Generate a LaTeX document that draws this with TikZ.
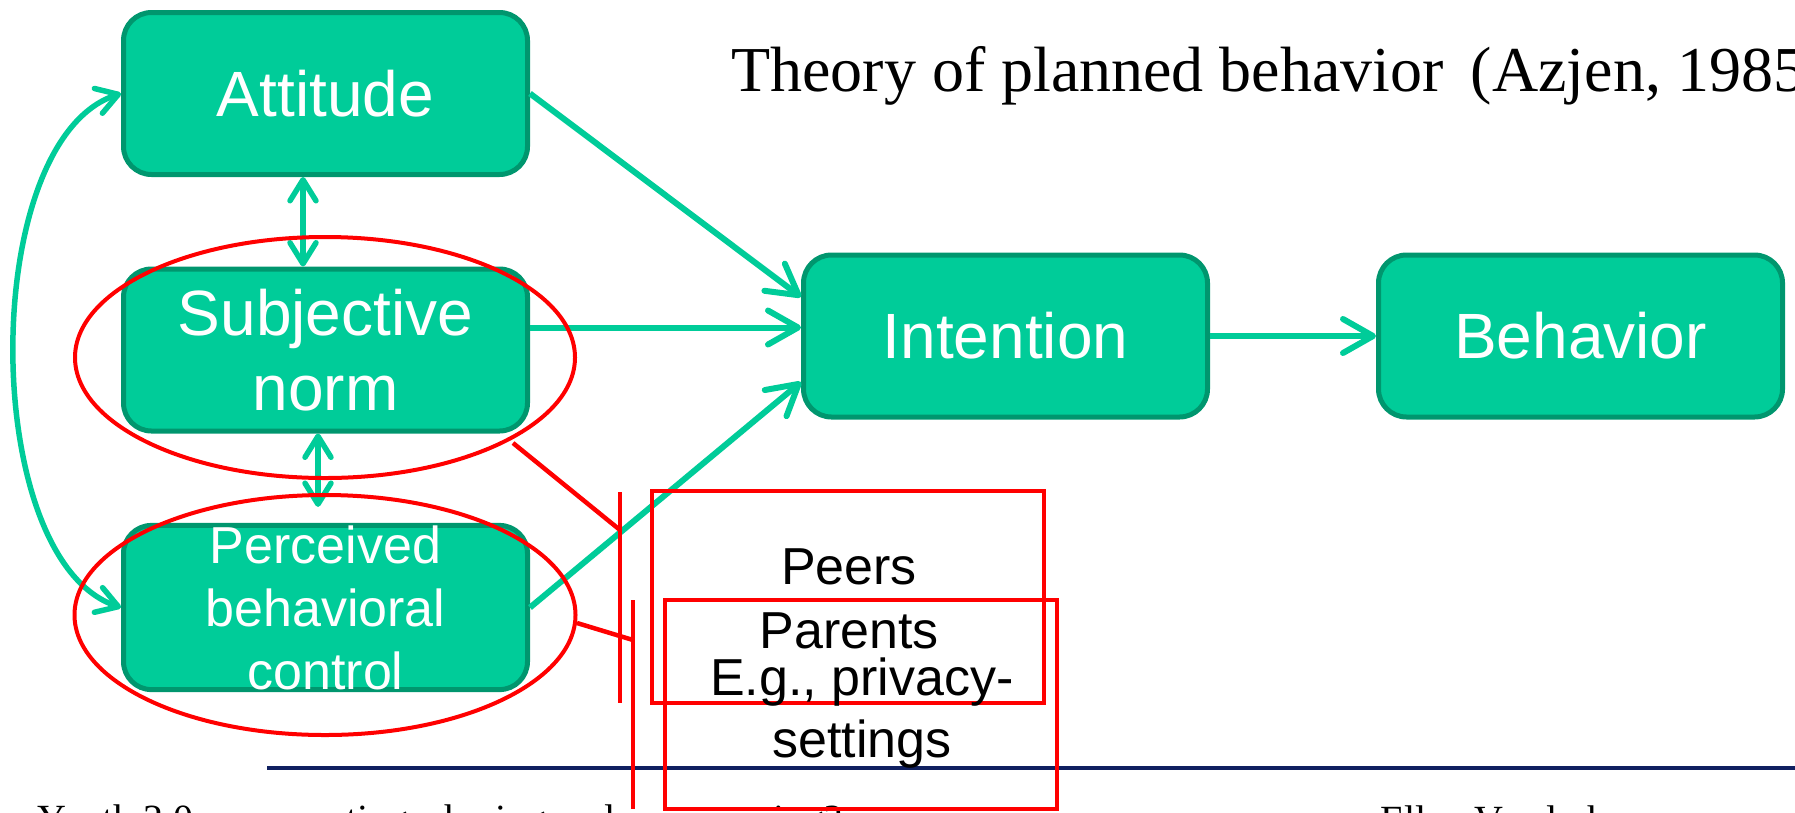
\documentclass[tikz,border=0pt]{standalone}
\usepackage{fontspec}
\setmainfont{Liberation Serif}
\newfontfamily\arialface{Liberation Sans}
\usetikzlibrary{arrows.meta,shapes.geometric,calc}

\definecolor{tpbfill}{RGB}{0,204,153}
\definecolor{tpbedge}{RGB}{0,150,110}
\definecolor{tpbarrow}{RGB}{0,204,153}
\definecolor{footnavy}{RGB}{16,32,96}

\begin{document}
\begin{tikzpicture}[x=1pt,y=-1pt,
  tpbbox/.style={draw=tpbedge, fill=tpbfill, line width=5pt, rounded corners=28pt,
    minimum width=404pt, minimum height=162pt, inner sep=0pt, text=white,
    align=center, font=\arialface\fontsize{64}{75}\selectfont},
  flow/.style={draw=tpbarrow, line width=6pt,
    -{Straight Barb[round,length=30pt,width=34pt]}},
  mutual/.style={draw=tpbarrow, line width=5.5pt,
    {Straight Barb[round,length=21pt,width=26pt]}-{Straight Barb[round,length=21pt,width=26pt]}},
  ring/.style={draw=red, line width=4pt, ellipse, inner sep=0pt},
  callout/.style={draw=red, line width=4.5pt, inner sep=0pt},
  tie/.style={draw=red, line width=4.5pt},
  grouplabel/.style={font=\arialface\fontsize{52}{64}\selectfont, align=center,
    text=black, inner sep=0pt}
]
\useasboundingbox (0,0) rectangle (1795,812);
\clip (0,0) rectangle (1795,812);

% footer rule and footer texts
\coordinate (ruleL) at (267,768);
\coordinate (ruleR) at (1795,768);
\draw[footnavy, line width=4pt] (ruleL) -- (ruleR);
\node[anchor=base west, inner sep=0pt, font=\fontsize{40}{48}\selectfont] (event) at (37,832)
  {Youth 2.0 – connecting, sharing and empowering?};
\node[anchor=base west, inner sep=0pt, font=\fontsize{40}{48}\selectfont] (author) at (1380,833)
  {Ellen Vanderhoven};

% title
\node[anchor=base west, inner sep=0pt, font=\fontsize{64}{77}\selectfont] (title) at (731,91)
  {Theory of planned behavior\hspace{27pt}(Azjen, 1985)};

% model constructs
\node[tpbbox] (att)  at (325.5,93.5) {Attitude};
\node[tpbbox] (norm) at (325.5,350)  {Subjective\\norm};
\node[tpbbox, font=\arialface\fontsize{52}{63}\selectfont] (pbc) at (325.5,607.5)
  {Perceived\\behavioral\\control};
\node[tpbbox] (int)  at (1005.5,336) {Intention};
\node[tpbbox] (beh)  at (1580.5,336) {Behavior};

% causal paths
\draw[flow] (att.east) -- ($(int.west)+(0,-39)$);
\draw[flow] ($(norm.east)+(0,-22.5)$) -- ($(int.west)+(0,-8.5)$);
\draw[flow] (pbc.east) -- ($(int.west)+(0,46)$);
\draw[flow] (int.east) -- (beh.west);

% correlations between the predictors
\draw[mutual] ($(att.south)+(-22.5,0)$) -- ($(norm.north)+(-22.5,0)$);
\draw[mutual] ($(norm.south)+(-7.5,0)$) -- ($(pbc.north)+(-7.5,-16)$);
\draw[mutual] (att.west) .. controls ($(att.west)+(-143,46.5)$) and ($(pbc.west)+(-142,-47.5)$) .. (pbc.west);

% highlighted constructs
\node[ring, minimum width=500pt, minimum height=241pt] (ringnorm) at (325,357.5) {};
\node[ring, minimum width=501pt, minimum height=240pt] (ringpbc) at (325,615) {};

% brackets linking to the examples
\coordinate (normtap) at (513,443);
\coordinate (pbctap)  at (577,623);
\coordinate (bar1top) at (620,492);
\coordinate (bar1tap) at (620,530);
\coordinate (bar1bot) at (620,703);
\coordinate (bar2top) at (633,600);
\coordinate (bar2tap) at (633,640);
\coordinate (bar2bot) at (633,809);
\draw[tie] (normtap) -- (bar1tap);
\draw[tie] (bar1top) -- (bar1bot);
\draw[tie] (pbctap) -- (bar2tap);
\draw[tie] (bar2top) -- (bar2bot);

% example boxes
\node[callout, minimum width=392pt, minimum height=212pt] (grp1) at (848,597) {};
\node[callout, minimum width=392pt, minimum height=209pt] (grp2) at (861,704.5) {};
\node[grouplabel] (grp1txt) at (849,599) {Peers\\Parents};
\node[grouplabel, font=\arialface\fontsize{52}{62}\selectfont] (grp2txt) at (862,713) {E.g., privacy-\\settings};
\end{tikzpicture}
\end{document}
